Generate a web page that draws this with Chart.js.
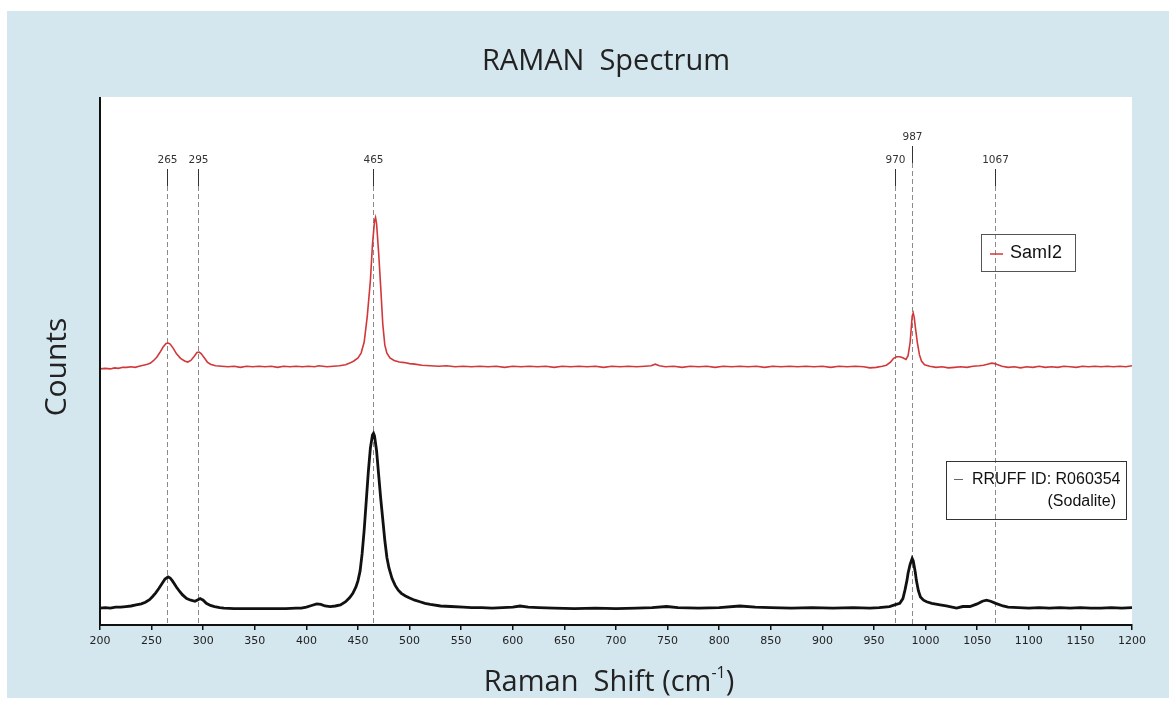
<!DOCTYPE html>
<html><head><meta charset="utf-8">
<script src="https://cdn.jsdelivr.net/npm/chart.js@4"></script>
<style>html,body{margin:0;padding:0;background:#fff;}#wrap{position:relative;width:1169px;height:702px;}</style>
</head><body><div id="wrap"><canvas id="c" width="1169" height="702"></canvas></div>
<script>
// ---- data (Raman shift in cm^-1, counts in arbitrary units) ----
const redShift = [200,205,210,214,218,222,226,230,234,238,242,246,249,252,255,258,261,264,266,268,271,274,278,282,285,288,291,294,296,298,301,304,307,312,318,324,330,336,342,348,354,360,366,372,378,384,390,396,402,408,412,416,420,426,432,438,442,446,450,453,456,459,462,464,466,467,468,470,472,474,476,478,481,485,490,495,500,505,512,520,528,536,544,552,560,568,576,584,592,600,608,616,624,632,640,648,656,664,672,680,688,696,704,712,720,728,734,738,742,748,756,764,772,780,788,796,804,812,820,828,836,844,852,860,868,876,884,892,900,908,916,924,932,940,946,952,958,962,966,969,972,975,978,981,983,985,986,987,988,989,990,992,994,996,999,1004,1010,1016,1022,1028,1034,1040,1046,1052,1056,1060,1064,1067,1070,1074,1080,1086,1092,1098,1104,1110,1116,1122,1128,1134,1140,1146,1152,1158,1164,1170,1176,1182,1188,1194,1200];
const redCounts = [485,486,485,487,486,488,488,489,488,490,492,494,496,501,507,516,526,533,534,532,524,514,505,500,498,501,508,516,517,514,506,498,494,491,490,489,490,488,490,489,490,489,490,488,490,489,490,489,490,489,491,490,489,490,491,493,496,500,506,515,536,585,652,720,765,772,760,705,640,570,530,515,506,501,498,497,495,494,492,491,490,491,489,490,489,490,489,490,488,490,489,490,489,490,488,490,489,490,489,490,488,490,489,490,489,490,491,494,491,489,490,488,490,489,490,488,490,489,490,489,490,488,490,489,490,489,490,489,490,488,490,489,490,489,487,488,490,492,498,505,508,508,506,503,510,535,560,585,591,582,565,535,512,500,493,490,488,489,487,488,489,488,490,491,492,494,496,495,493,490,488,489,487,489,488,490,488,489,488,490,489,488,490,489,490,489,490,489,490,489,491];

const refShift = [200,205,210,215,220,225,230,235,240,244,248,251,254,257,260,263,266,268,270,272,274,277,280,284,288,292,295,297,300,303,307,311,316,320,330,340,350,360,370,380,390,395,400,405,410,414,418,423,428,433,438,442,445,448,450,452,454,456,458,460,462,464,465,466,468,470,472,474,476,478,480,483,486,489,492,496,500,505,510,515,520,530,540,552,560,570,580,590,600,607,615,625,640,660,680,700,720,735,749,760,780,800,820,835,850,870,890,910,930,946,955,965,970,975,978,980,982,983,985,987,988,990,991,993,995,998,1001,1006,1014,1020,1030,1036,1043,1050,1055,1059,1063,1068,1075,1080,1090,1100,1110,1120,1130,1140,1150,1160,1170,1180,1190,1200];
const refCounts = [32,33,32,34,34,35,36,38,40,43,48,54,61,69,78,87,91,89,84,78,72,64,57,50,47,45,48,50,47,41,37,35,33,32,31,31,31,31,31,31,32,32,34,37,40,39,36,35,36,38,44,52,60,72,84,102,135,180,235,290,335,360,363,358,330,285,240,200,160,128,108,88,75,66,60,55,51,47,44,41,39,36,35,34,33,33,32,33,34,36,34,33,32,31,32,31,32,33,35,33,32,33,36,34,33,32,33,32,33,32,33,35,38,41,50,66,85,98,115,126,122,100,85,65,53,47,44,41,38,36,32,35,35,40,45,47,45,41,36,34,33,32,33,32,33,32,33,32,32,33,32,33];

const peakPositions = [265,295,465,970,987,1067];
const xTickValues = [200,250,300,350,400,450,500,550,600,650,700,750,800,850,900,950,1000,1050,1100,1150,1200];
const seriesNames = ['SamI2','RRUFF ID: R060354','(Sodalite)'];
const chartTitle = 'RAMAN  Spectrum';
const xTitle = 'Raman  Shift (cm';
const yTitle = 'Counts';

const RED = '#d2383a';
const BLACK = '#111111';

const deco = {
  id: 'deco',
  beforeDraw(chart) {
    const {ctx, chartArea: a} = chart;
    ctx.save();
    ctx.fillStyle = '#ffffff';
    ctx.fillRect(0, 0, chart.width, chart.height);
    ctx.fillStyle = '#d4e6ee';
    ctx.fillRect(7, 11, chart.width - 7, chart.height - 15);
    ctx.fillStyle = '#ffffff';
    ctx.fillRect(a.left, a.top, a.right - a.left, a.bottom - a.top);
    ctx.restore();
  },
  beforeDatasetsDraw(chart) {
    const {ctx, chartArea: a} = chart;
    const xs = chart.scales.x;
    ctx.save();
    peakPositions.forEach((p, i) => {
      const px = Math.round(xs.getPixelForValue(p)) + 0.5;
      const raised = i > 0 && p - peakPositions[i - 1] < 20;
      const ly = raised ? 137 : 160;
      ctx.fillStyle = '#333';
      ctx.font = '10.5px "DejaVu Sans"';
      ctx.textAlign = 'center';
      ctx.textBaseline = 'middle';
      ctx.fillText(String(p), px, ly);
      ctx.strokeStyle = '#333';
      ctx.lineWidth = 1;
      ctx.setLineDash([]);
      ctx.beginPath(); ctx.moveTo(px, ly + 9); ctx.lineTo(px, ly + 26); ctx.stroke();
      ctx.strokeStyle = '#8a8a8a';
      ctx.setLineDash([5, 3]);
      ctx.beginPath(); ctx.moveTo(px, ly + 26); ctx.lineTo(px, a.bottom); ctx.stroke();
    });
    ctx.restore();
  },
  afterDraw(chart) {
    const {ctx, chartArea: a} = chart;
    ctx.save();
    // left axis line
    ctx.strokeStyle = BLACK; ctx.lineWidth = 2;
    ctx.beginPath(); ctx.moveTo(a.left, a.top); ctx.lineTo(a.left, a.bottom); ctx.stroke();

    // title
    ctx.fillStyle = '#222';
    ctx.textAlign = 'center'; ctx.textBaseline = 'middle';
    ctx.font = '29px "Open Sans"';
    ctx.fillText(chartTitle, 606, 62);

    // x title with superscript
    ctx.font = '29px "Open Sans"';
    const w1 = ctx.measureText(xTitle).width;
    ctx.font = '16px "Open Sans"';
    const w2 = ctx.measureText('-1').width;
    ctx.font = '29px "Open Sans"';
    const w3 = ctx.measureText(')').width;
    let sx = 609 - (w1 + w2 + w3) / 2;
    ctx.textAlign = 'left';
    ctx.fillText(xTitle, sx, 683);
    ctx.font = '16px "Open Sans"';
    ctx.fillText('-1', sx + w1, 673);
    ctx.font = '29px "Open Sans"';
    ctx.fillText(')', sx + w1 + w2, 683);

    // y title
    ctx.save();
    ctx.translate(57, 367);
    ctx.rotate(-Math.PI / 2);
    ctx.textAlign = 'center';
    ctx.font = '30px "Open Sans"';
    ctx.fillText(yTitle, 0, 0);
    ctx.restore();

    // legend 1
    ctx.strokeStyle = '#555'; ctx.lineWidth = 1; ctx.setLineDash([]);
    const l1x = a.right - 151, l1y = a.top + 137;
    ctx.strokeRect(l1x + 0.5, l1y + 0.5, 94, 37);
    ctx.strokeStyle = RED; ctx.lineWidth = 1.5;
    ctx.beginPath(); ctx.moveTo(l1x + 9, l1y + 20); ctx.lineTo(l1x + 22, l1y + 20); ctx.stroke();
    ctx.fillStyle = '#111'; ctx.textAlign = 'left'; ctx.textBaseline = 'middle';
    ctx.font = '18px "Liberation Sans"';
    ctx.fillText(seriesNames[0], l1x + 29, l1y + 19);

    // legend 2
    const l2x = a.right - 186, l2y = a.top + 364;
    ctx.strokeStyle = '#333'; ctx.lineWidth = 1;
    ctx.strokeRect(l2x + 0.5, l2y + 0.5, 180, 58);
    ctx.strokeStyle = '#666'; ctx.lineWidth = 1;
    ctx.beginPath(); ctx.moveTo(l2x + 8, l2y + 18.5); ctx.lineTo(l2x + 17, l2y + 18.5); ctx.stroke();
    ctx.font = '16px "Liberation Sans"';
    ctx.textAlign = 'left';
    ctx.fillText(seriesNames[1], l2x + 26, l2y + 19);
    ctx.textAlign = 'right';
    ctx.fillText(seriesNames[2], l2x + 170, l2y + 41);
    ctx.restore();
  }
};

new Chart(document.getElementById('c'), {
  type: 'line',
  data: {
    datasets: [
      { label: seriesNames[0], data: redShift.map((x, i) => ({x, y: redCounts[i]})), borderColor: RED, borderWidth: 1.6, pointRadius: 0, tension: 0 },
      { label: seriesNames[1], data: refShift.map((x, i) => ({x, y: refCounts[i]})), borderColor: BLACK, borderWidth: 2.8, pointRadius: 0, tension: 0 }
    ]
  },
  options: {
    responsive: false,
    animation: false,
    devicePixelRatio: 1,
    layout: { padding: { left: 100, right: 37, top: 97, bottom: 0 } },
    plugins: { legend: { display: false }, tooltip: { enabled: false }, title: { display: false } },
    scales: {
      x: {
        type: 'linear', min: 200, max: 1200,
        afterBuildTicks(s) { s.ticks = xTickValues.map(v => ({value: v})); },
        afterFit(s) { s.height = 77; },
        grid: { display: true, drawOnChartArea: false, drawTicks: true, tickLength: 5, color: BLACK, lineWidth: 1.5 },
        border: { display: true, color: BLACK, width: 2 },
        ticks: { font: { family: 'DejaVu Sans', size: 11 }, color: '#222', padding: 5, maxRotation: 0, autoSkip: false, callback: v => String(v) }
      },
      y: { display: false, min: 0, max: 1000 }
    }
  },
  plugins: [deco]
});
</script></body></html>
